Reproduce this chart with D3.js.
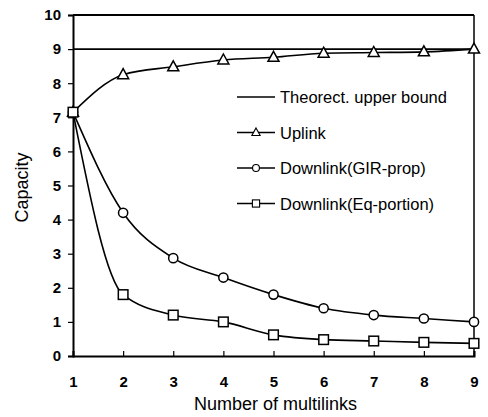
<!DOCTYPE html>
<html>
<head>
<meta charset="utf-8">
<script src="https://cdn.jsdelivr.net/npm/d3@7"></script>
<style>
  body { margin: 0; background: #fff; }
  text { font-family: "Liberation Sans", Arial, sans-serif; fill: #000; }
</style>
</head>
<body>
<div id="chart"></div>
<script>
// values
const multilinks = [1, 2, 3, 4, 5, 6, 7, 8, 9];
const upperBound = 9;
const uplink = [7.15, 8.25, 8.48, 8.68, 8.76, 8.88, 8.9, 8.92, 9.0];
const downGir = [7.15, 4.2, 2.87, 2.3, 1.8, 1.4, 1.2, 1.1, 1.0];
const downEq = [7.15, 1.8, 1.2, 1.0, 0.62, 0.48, 0.44, 0.4, 0.37];
const yTicks = [0, 1, 2, 3, 4, 5, 6, 7, 8, 9, 10];
const legendLabels = ["Theorect. upper bound", "Uplink", "Downlink(GIR-prop)", "Downlink(Eq-portion)"];

const W = 488, H = 417;
const margin = { top: 15, right: 14, bottom: 61, left: 73 };
const width = W - margin.left - margin.right;
const height = H - margin.top - margin.bottom;

const svg = d3.select('#chart').append('svg')
  .attr('width', W)
  .attr('height', H);

const g = svg.append('g')
  .attr('transform', `translate(${margin.left},${margin.top})`);

const x = d3.scaleLinear().domain([1, 9]).range([0, width]);
const y = d3.scaleLinear().domain([0, 10]).range([height, 0]);

// axes
const xAxis = g.append('g')
  .attr('transform', `translate(0,${height})`)
  .call(d3.axisBottom(x).tickValues(multilinks).tickSize(-5).tickPadding(20).tickFormat(d3.format('d')));
const yAxis = g.append('g')
  .call(d3.axisLeft(y).tickValues(yTicks).tickSize(5).tickPadding(7).tickFormat(d3.format('d')));

[xAxis, yAxis].forEach(a => {
  a.select('.domain').attr('stroke', '#000').attr('stroke-width', 2);
  a.selectAll('.tick line').attr('stroke', '#000').attr('stroke-width', 1.2);
  a.selectAll('.tick text').style('font-size', '15px').style('font-weight', 'bold')
    .style('font-family', '"Liberation Sans", Arial, sans-serif');
});

// frame top & right
g.append('line').attr('x1', 0).attr('x2', width).attr('y1', 0).attr('y2', 0)
  .attr('stroke', '#000').attr('stroke-width', 2);
g.append('line').attr('x1', width).attr('x2', width).attr('y1', 0).attr('y2', height)
  .attr('stroke', '#000').attr('stroke-width', 1.5);

// theoretical upper bound
g.append('line')
  .attr('x1', x(1)).attr('x2', x(9))
  .attr('y1', y(upperBound)).attr('y2', y(upperBound))
  .attr('stroke', '#000').attr('stroke-width', 1.8);

const line = d3.line()
  .x((d, i) => x(multilinks[i]))
  .y(d => y(d))
  .curve(d3.curveMonotoneX);

const series = [
  { vals: uplink, shape: 'tri' },
  { vals: downGir, shape: 'circ' },
  { vals: downEq, shape: 'sq' }
];

function marker(sel, shape) {
  if (shape === 'tri') {
    sel.append('path').attr('d', 'M0,-6L5.5,4L-5.5,4Z');
  } else if (shape === 'circ') {
    sel.append('circle').attr('r', 4.6);
  } else {
    sel.append('rect').attr('x', -4.8).attr('y', -4.8).attr('width', 9.6).attr('height', 9.6);
  }
  sel.selectAll('path,circle,rect').attr('fill', '#fff').attr('stroke', '#000').attr('stroke-width', 1.5);
}

series.forEach(s => {
  g.append('path').datum(s.vals)
    .attr('fill', 'none').attr('stroke', '#000').attr('stroke-width', 1.6)
    .attr('d', line);
  g.selectAll(null).data(s.vals).enter().append('g')
    .attr('transform', (d, i) => `translate(${x(multilinks[i])},${y(d)})`)
    .each(function () { marker(d3.select(this), s.shape); });
});

// legend
const legend = svg.append('g').attr('transform', 'translate(237,97)');
legendLabels.forEach((lab, i) => {
  const row = legend.append('g').attr('transform', `translate(0,${i * 35.5})`);
  row.append('line').attr('x1', 0).attr('x2', 38).attr('stroke', '#000').attr('stroke-width', 1.6);
  if (i > 0) {
    const m = row.append('g');
    marker(m, series[i - 1].shape);
    m.attr('transform', 'translate(19,0) scale(0.75)');
  }
  row.append('text').attr('x', 43).attr('y', 6)
    .style('font-size', '16.5px').text(lab);
});

// axis titles
svg.append('text')
  .attr('x', margin.left + width / 2 + 2).attr('y', 410)
  .attr('text-anchor', 'middle').style('font-size', '18px')
  .text('Number of multilinks');
svg.append('text')
  .attr('transform', `translate(28,${margin.top + height / 2 + 2}) rotate(-90)`)
  .attr('text-anchor', 'middle').style('font-size', '18px')
  .text('Capacity');
</script>
</body>
</html>
